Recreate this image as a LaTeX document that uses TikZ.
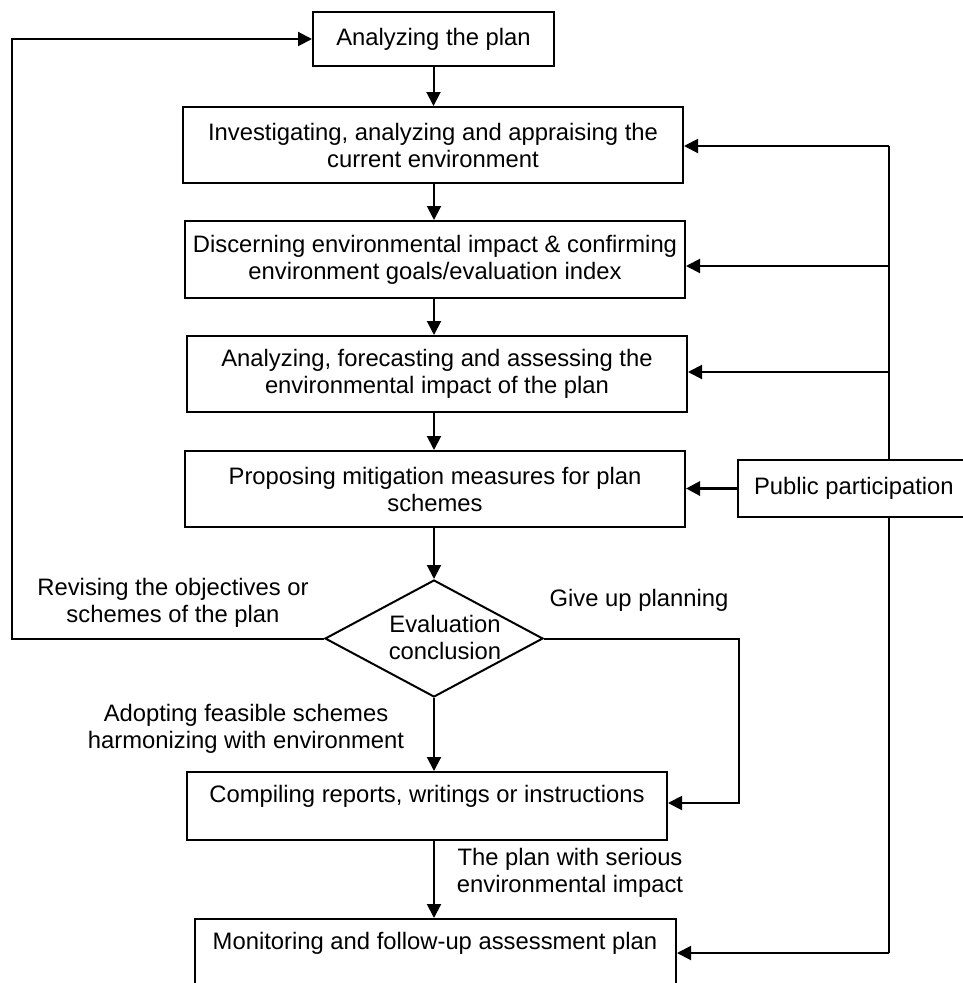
\documentclass[tikz,border=0pt]{standalone}
\usepackage{fontspec}
\setmainfont{Liberation Sans}
\usetikzlibrary{arrows.meta,shapes.geometric,calc}
\begin{document}
\begin{tikzpicture}[x=1pt,y=-1pt,
  every node/.style={font=\fontsize{23.8}{27}\selectfont},
  flowbox/.style={draw, line width=2pt, fill=white, inner sep=0pt, align=center},
  lbl/.style={inner sep=0pt, align=center},
  conn/.style={line width=2pt},
  arr/.style={line width=2pt, -{Triangle[length=14pt,width=14pt]}}]
\useasboundingbox (0,0) rectangle (963,983);
\clip (0,0) rectangle (963,983);

% main boxes
\node[flowbox, minimum width=241pt, minimum height=54pt] (plan) at (433.5,39) {Analyzing the plan};
\node[flowbox, minimum width=500pt, minimum height=76pt] (inv) at (433,145) {Investigating, analyzing and appraising the\\current environment};
\node[flowbox, minimum width=500pt, minimum height=77pt] (disc) at (435,259.5) {Discerning environmental impact \& confirming\\environment goals/evaluation index};
\node[flowbox, minimum width=500pt, minimum height=76pt] (anal) at (437,374) {Analyzing, forecasting and assessing the\\environmental impact of the plan};
\node[flowbox, minimum width=500pt, minimum height=76pt] (prop) at (435,489) {Proposing mitigation measures for plan\\schemes};
\node[diamond, draw, line width=2pt, minimum width=218pt, minimum height=117pt, inner sep=0pt] (eval) at (434,638.5) {};
\node[lbl] (evaltxt) at (445,637) {Evaluation\\conclusion};
\node[flowbox, minimum width=480pt, minimum height=68pt] (comp) at (427,806) {};
\node[lbl] (comptxt) at (427,796) {Compiling reports, writings or instructions};
\node[flowbox, minimum width=481pt, minimum height=100pt] (mon) at (435.5,969) {};
\node[lbl] (montxt) at (435,943) {Monitoring and follow-up assessment plan};

% labels
\node[lbl] (revise) at (173,602.5) {Revising the objectives or\\schemes of the plan};
\node[lbl] (giveup) at (639,600) {Give up planning};
\node[lbl] (adopt) at (246,729) {Adopting feasible schemes\\harmonizing with environment};
\node[lbl] (serious) at (570,873) {The plan with serious\\environmental impact};

% helper coordinates
\coordinate (sp) at (434,0);
\coordinate (lx) at (12,0);
\coordinate (gx) at (739,0);
\coordinate (r1) at (889,146);
\coordinate (r2) at (889,266);
\coordinate (r3) at (889,372);
\coordinate (r5) at (889,953);

% main spine
\draw[arr] (plan.south) -- (plan.south |- inv.north);
\draw[arr] (sp |- inv.south) -- (sp |- disc.north);
\draw[arr] (sp |- disc.south) -- (sp |- anal.north);
\draw[arr] (sp |- anal.south) -- (sp |- prop.north);
\draw[arr] (sp |- prop.south) -- (eval.north);
\draw[arr] (eval.south) -- (eval.south |- comp.north);
\draw[arr] (eval.south |- comp.south) -- (eval.south |- mon.north);

% feedback loop left
\draw[arr] (eval.west) -- (eval.west -| lx) |- (plan.west);
% give up
\draw[arr] (eval.east) -| ($(gx |- comp.east)+(0,-3)$) -- ($(comp.east)+(0,-3)$);

% right bus
\draw[conn] (r1) -- (r5);
\draw[arr] (r1) -- (r1 -| inv.east);
\draw[arr] (r2) -- (r2 -| disc.east);
\draw[arr] (r3) -- (r3 -| anal.east);
\draw[arr] (r5) -- (r5 -| mon.east);

% public participation
\node[flowbox, anchor=west, minimum height=57pt, inner xsep=16pt] (pub) at (737,488.5) {Public participation};
\draw[arr, line width=3pt] (pub.west) -- (pub.west -| prop.east);
\end{tikzpicture}
\end{document}
